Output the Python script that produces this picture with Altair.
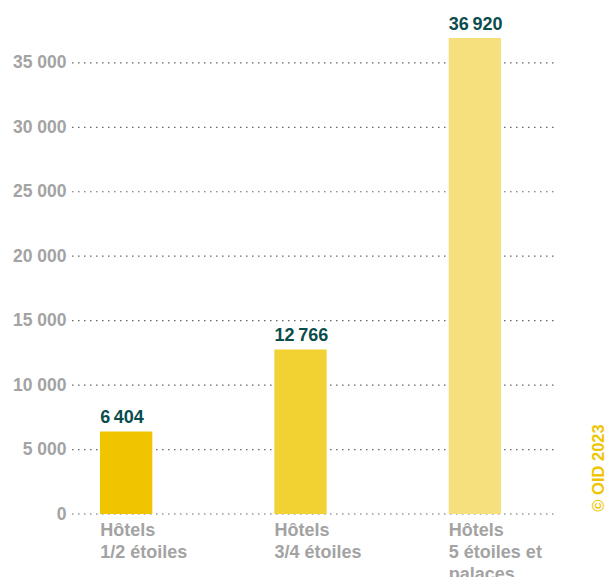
import altair as alt
import pandas as pd

categories = ["Hôtels\n1/2 étoiles", "Hôtels\n3/4 étoiles", "Hôtels\n5 étoiles et\npalaces"]
values = [6404, 12766, 36920]
value_labels = ["6\u202f404", "12\u202f766", "36\u202f920"]
colors = ["#F0C500", "#F2D232", "#F6E07E"]
y_ticks = [0, 5000, 10000, 15000, 20000, 25000, 30000, 35000]

df = pd.DataFrame({"cat": categories, "val": values, "lab": value_labels, "col": colors})
grid_df = pd.DataFrame({"v": y_ticks})

yscale = alt.Scale(domain=[0, 39100], nice=False)

x = alt.X("cat:N", sort=categories,
          scale=alt.Scale(range=[-33, 490], paddingInner=0.7, paddingOuter=0.35),
          axis=alt.Axis(title=None, domain=False, ticks=False, grid=False, labelAngle=0,
                        labelAlign="left", labelOffset=-26, labelBaseline="top",
                        labelPadding=7, labelFont="Liberation Sans", labelFontSize=18,
                        labelFontWeight="bold", labelColor="#A3A3A3", labelLineHeight=22,
                        labelExpr="split(datum.label, '\\n')"))
y = alt.Y("val:Q", scale=yscale,
          axis=alt.Axis(title=None, domain=False, ticks=False, values=y_ticks, grid=False,
                        labelPadding=6, labelFont="Liberation Sans", labelFontSize=17.5,
                        labelFontWeight="bold", labelColor="#A3A3A3",
                        labelExpr="replace(format(datum.value, ','), ',', ' ')"))

grid = alt.Chart(grid_df).mark_rule(strokeDash=[1.5, 4.5], color="#666666",
                                    strokeWidth=1.2).encode(
    y=alt.Y("v:Q", scale=yscale), x=alt.value(0), x2=alt.value(485)
)
bars = alt.Chart(df).mark_bar().encode(
    x=x, y=y, color=alt.Color("col:N", scale=None)
)
texts = alt.Chart(df).mark_text(align="left", baseline="bottom", dx=-26, dy=-4,
                                font="Liberation Sans", fontSize=18, fontWeight="bold",
                                color="#0B4D4D").encode(
    x=alt.X("cat:N", sort=categories), y="val:Q", text="lab:N"
)
copy = alt.Chart(pd.DataFrame({"t": ["© OID 2023"]})).mark_text(
    angle=270, align="center", baseline="middle", font="Liberation Sans",
    fontSize=16.5, fontWeight="bold", color="#F0C500", clip=False
).encode(x=alt.value(527), y=alt.value(458), text="t:N")

chart = (grid + bars + texts + copy).properties(
    width=485, height=504,
    autosize=alt.AutoSizeParams(type="none"),
    padding={"left": 64, "top": 2, "right": 50, "bottom": 63},
).configure_view(stroke=None)

chart.save("out.html", embed_options={"renderer": "svg", "actions": False})
